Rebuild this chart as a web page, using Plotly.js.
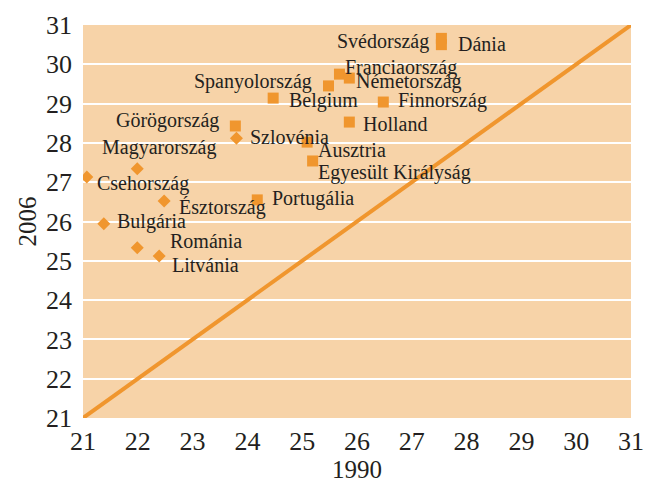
<!DOCTYPE html>
<html>
<head>
<meta charset="utf-8">
<script src="https://cdn.plot.ly/plotly-3.0.1.min.js"></script>
<style>html,body{margin:0;padding:0;background:#fff;}#chart{width:660px;height:484px;}</style>
</head>
<body>
<div id="chart"></div>
<script>
// Western countries (squares): value in 1990 and 2006
const westNames = ["Svédország","Dánia","Franciaország","Németország","Spanyolország","Belgium","Finnország","Holland","Görögország","Ausztria","Egyesült Királyság","Portugália"];
const west1990 = [27.54, 27.54, 25.68, 25.86, 25.48, 24.47, 26.48, 25.86, 23.78, 25.09, 25.19, 24.18];
const west2006 = [30.66, 30.50, 29.75, 29.65, 29.45, 29.14, 29.04, 28.53, 28.43, 28.02, 27.54, 26.55];

// Eastern countries (diamonds)
const eastNames = ["Szlovénia","Magyarország","Csehország","Észtország","Bulgária","Románia","Litvánia"];
const east1990 = [23.80, 21.99, 21.07, 22.48, 21.38, 21.99, 22.39];
const east2006 = [28.12, 27.34, 27.13, 26.52, 25.94, 25.33, 25.12];

// Reference diagonal
const diagX = [21, 31];
const diagY = [21, 31];

const tickVals = [21,22,23,24,25,26,27,28,29,30,31];

// label placement (anchor, pixel shift x, pixel shift y[down])
const westLabelPos = [["right",-10,3],["left",15,-1],["left",4,-7],["left",5,3],["right",-15,-4],["left",14,2],["left",13,-2],["left",12,2],["right",-14,-6],["left",9,8],["left",3,12],["left",13,-1]];
const eastLabelPos = [["left",12,-1],["center",22,-21],["left",8,6],["left",13,6],["left",11,-2],["left",31,-7],["left",11,9]];

const orange = "#F0962E";
const font = "'Liberation Serif', 'DejaVu Serif', serif";

const traces = [
  {x: diagX, y: diagY, mode: "lines", line: {color: orange, width: 4}, hoverinfo: "skip", showlegend: false},
  {x: west1990, y: west2006, text: westNames, mode: "markers", marker: {symbol: "square", size: 11, color: orange}, showlegend: false},
  {x: east1990, y: east2006, text: eastNames, mode: "markers", marker: {symbol: "diamond", size: 10, color: orange}, showlegend: false}
];

const annotations = [];
function addLabels(names, xs, ys, pos) {
  names.forEach((n, i) => {
    annotations.push({
      x: xs[i], y: ys[i], xref: "x", yref: "y", text: n, showarrow: false,
      xanchor: pos[i][0], yanchor: "middle", xshift: pos[i][1], yshift: -pos[i][2],
      font: {family: font, size: 20, color: "#231f20"}
    });
  });
}
addLabels(westNames, west1990, west2006, westLabelPos);
addLabels(eastNames, east1990, east2006, eastLabelPos);

const layout = {
  width: 660, height: 484,
  margin: {l: 83, r: 29, t: 25, b: 66},
  paper_bgcolor: "#ffffff",
  plot_bgcolor: "#F7D3A8",
  font: {family: font, color: "#231f20"},
  xaxis: {
    range: [21, 31], tickvals: tickVals, showgrid: false, zeroline: false, showline: false,
    ticks: "", ticklabelstandoff: 5,
    tickfont: {family: font, size: 26, color: "#231f20"},
    title: {text: "1990", font: {family: font, size: 25, color: "#231f20"}, standoff: 2}
  },
  yaxis: {
    range: [21, 31], tickvals: tickVals, showgrid: true, gridcolor: "#ffffff", gridwidth: 2,
    zeroline: false, showline: false, ticks: "", ticklabelstandoff: 10,
    tickfont: {family: font, size: 26, color: "#231f20"},
    title: {text: "2006", font: {family: font, size: 25, color: "#231f20"}, standoff: 2}
  },
  annotations: annotations
};

Plotly.newPlot("chart", traces, layout, {displayModeBar: false, staticPlot: true});
</script>
</body>
</html>
